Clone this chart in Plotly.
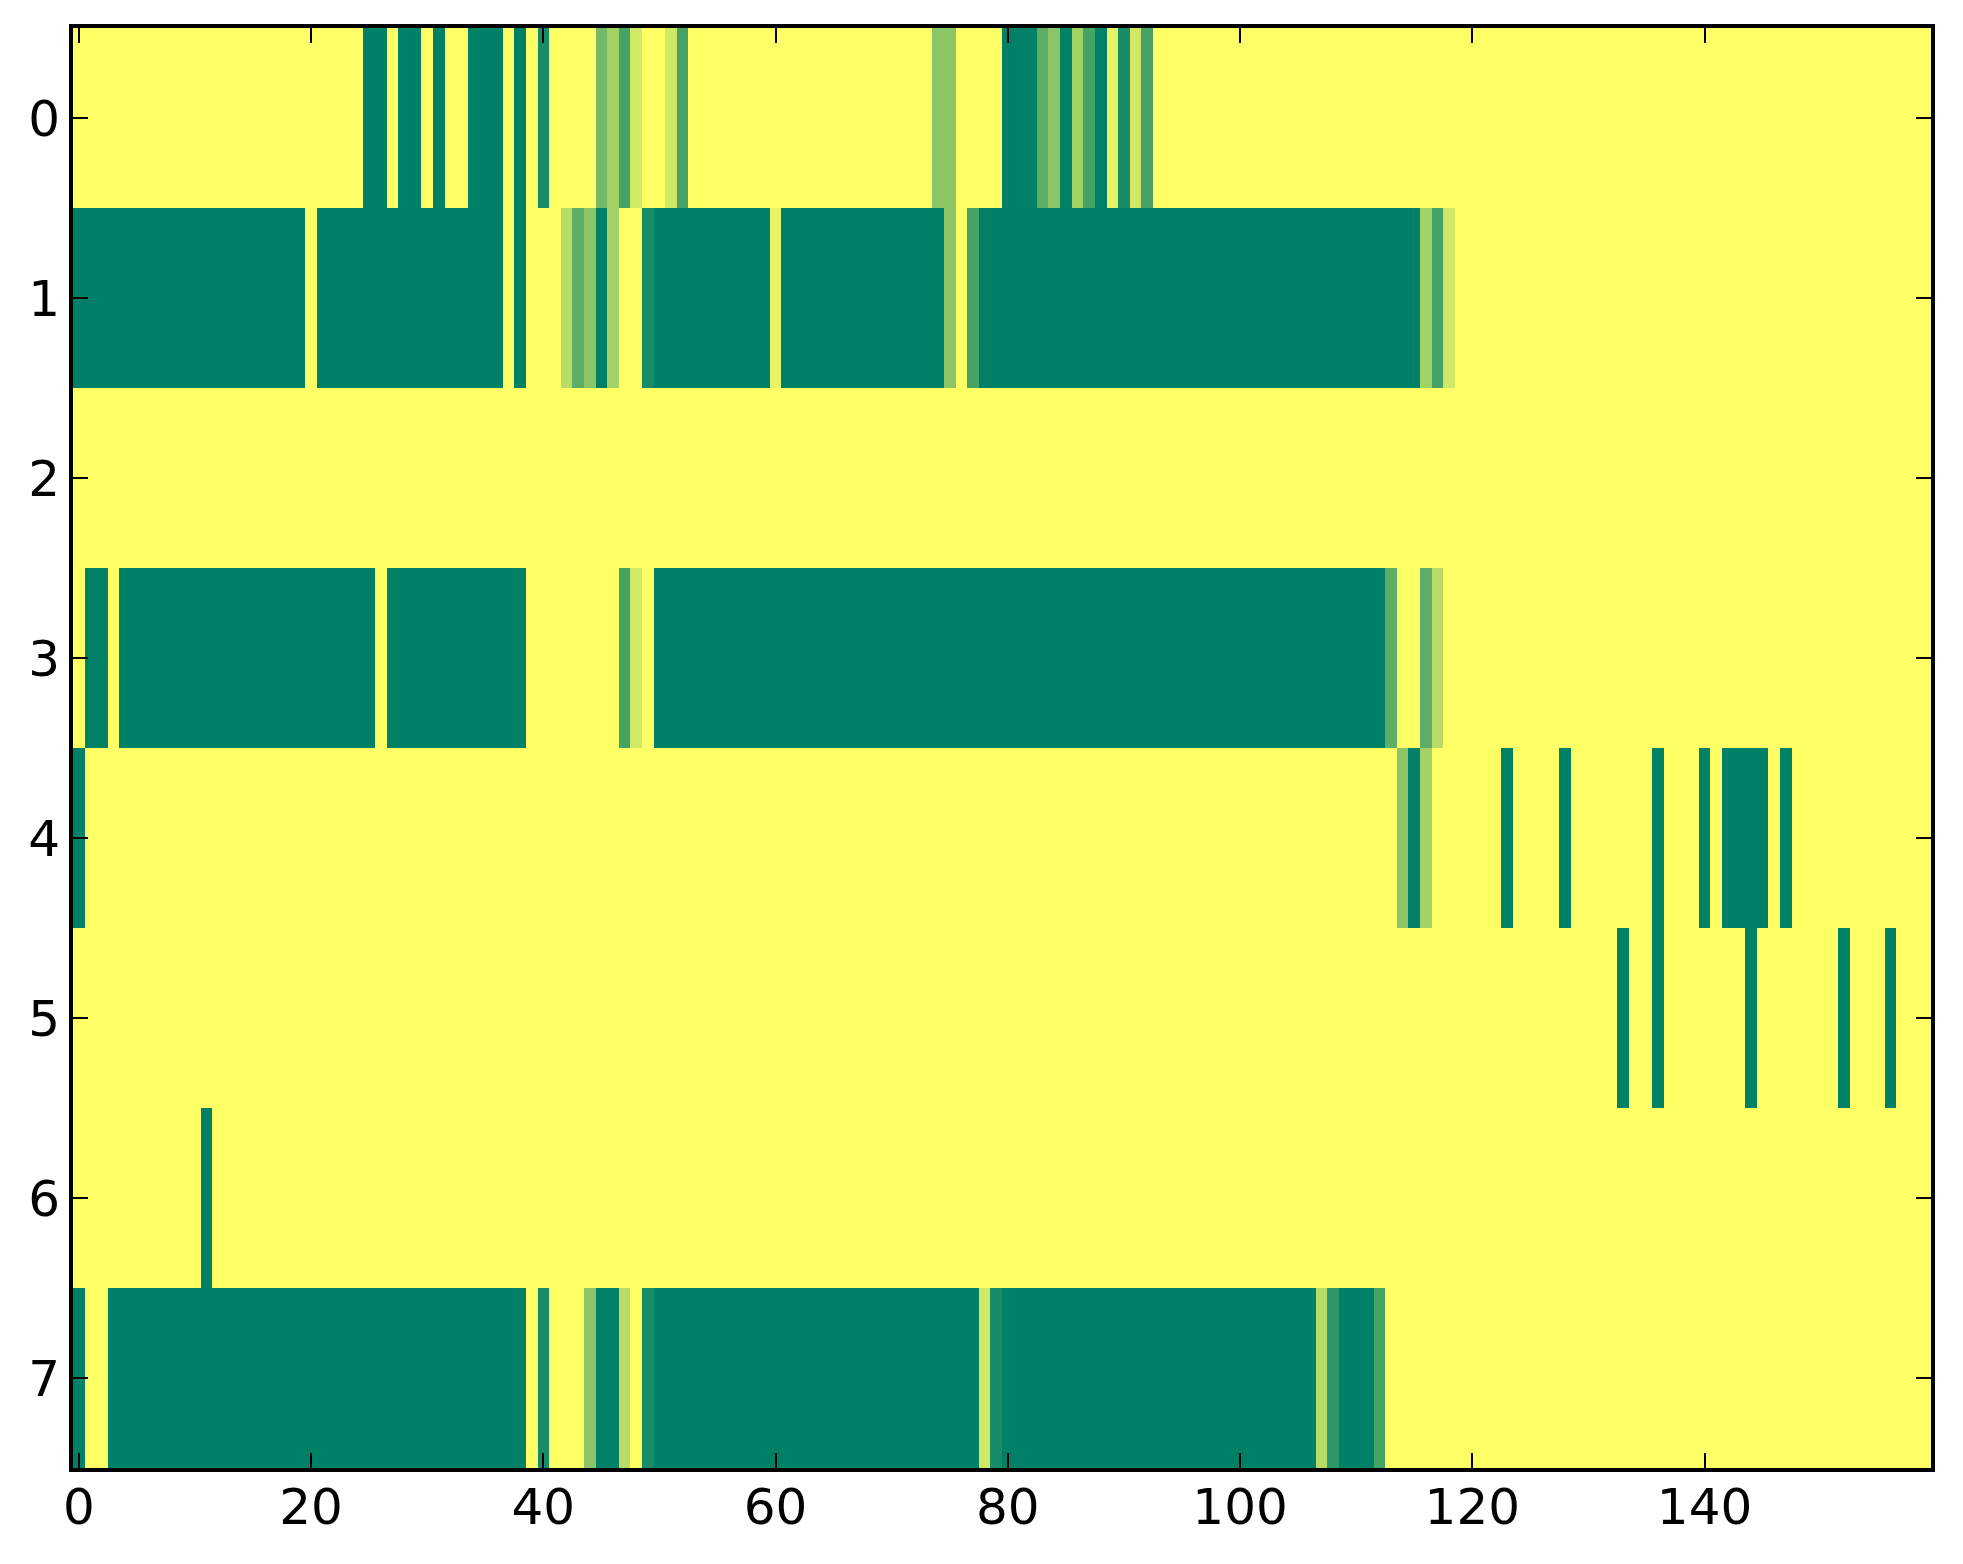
import plotly.graph_objects as go

# levels per cell: 0..9, a=10, b=11  (value = level / 11, summer colormap)
# 160 columns per row, written in blocks of 10
row0 = ("bbbbbbbbbb bbbbbbbbbb bbbbb00b00 b0bb000b0b 1bbbb5739b b93bbbbbbb bbbbbbbbbb bbbb66bbbb "
        "000460730a 193bbbbbbb bbbbbbbbbb bbbbbbbbbb bbbbbbbbbb bbbbbbbbbb bbbbbbbbbb bbbbbbbbbb")
row1 = ("0000000000 0000000000 b000000000 0000000b0b bb84607bb1 0000000000 a000000000 000006b300 "
        "0000000000 0000000000 0000000000 000000739b bbbbbbbbbb bbbbbbbbbb bbbbbbbbbb bbbbbbbbbb")
row2 = ("bbbbbbbbbb bbbbbbbbbb bbbbbbbbbb bbbbbbbbbb bbbbbbbbbb bbbbbbbbbb bbbbbbbbbb bbbbbbbbbb "
        "bbbbbbbbbb bbbbbbbbbb bbbbbbbbbb bbbbbbbbbb bbbbbbbbbb bbbbbbbbbb bbbbbbbbbb bbbbbbbbbb")
row3 = ("b00b000000 0000000000 000000b000 000000000b bbbbbbb39b 0000000000 0000000000 0000000000 "
        "0000000000 0000000000 0000000000 0004bb48bb bbbbbbbbbb bbbbbbbbbb bbbbbbbbbb bbbbbbbbbb")
row4 = ("0bbbbbbbbb bbbbbbbbbb bbbbbbbbbb bbbbbbbbbb bbbbbbbbbb bbbbbbbbbb bbbbbbbbbb bbbbbbbbbb "
        "bbbbbbbbbb bbbbbbbbbb bbbbbbbbbb bbbb607bbb bbb0bbbb0b bbbbbb0bbb 0b0000b0bb bbbbbbbbbb")
row5 = ("bbbbbbbbbb bbbbbbbbbb bbbbbbbbbb bbbbbbbbbb bbbbbbbbbb bbbbbbbbbb bbbbbbbbbb bbbbbbbbbb "
        "bbbbbbbbbb bbbbbbbbbb bbbbbbbbbb bbbbbbbbbb bbbbbbbbbb bbb0bb0bbb bbbb0bbbbb bb0bbb0bbb")
row6 = ("bbbbbbbbbb b0bbbbbbbb bbbbbbbbbb bbbbbbbbbb bbbbbbbbbb bbbbbbbbbb bbbbbbbbbb bbbbbbbbbb "
        "bbbbbbbbbb bbbbbbbbbb bbbbbbbbbb bbbbbbbbbb bbbbbbbbbb bbbbbbbbbb bbbbbbbbbb bbbbbbbbbb")
row7 = ("0bb0000000 0000000000 0000000000 000000000b 1bbb6008b1 0000000000 0000000000 0000000091 "
        "0000000000 0000000000 0000000820 003bbbbbbb bbbbbbbbbb bbbbbbbbbb bbbbbbbbbb bbbbbbbbbb")

rows = [row0, row1, row2, row3, row4, row5, row6, row7]
y_labels = [0, 1, 2, 3, 4, 5, 6, 7]
x_ticks = [0, 20, 40, 60, 80, 100, 120, 140]

z = []
for r in rows:
    cells = "".join(r.split())
    z.append([int(c, 16) / 11 for c in cells])
cols = list(range(len(z[0])))

# matplotlib 'summer'
summer = [[0, "rgb(0,128,102)"], [1, "rgb(255,255,102)"]]

fig = go.Figure(
    data=[go.Heatmap(z=z, x=cols, y=y_labels, colorscale=summer,
                     zmin=0, zmax=1, showscale=False)]
)

axis_style = dict(
    ticks="inside", ticklen=15, tickwidth=2, tickcolor="black",
    showline=True, linewidth=4, linecolor="black", mirror="ticks",
    showgrid=False, zeroline=False,
    tickfont=dict(family="DejaVu Sans", size=50, color="black"),
)

fig.update_layout(
    width=1963, height=1564,
    margin=dict(l=73, r=32, t=28, b=96),
    paper_bgcolor="white", plot_bgcolor="white",
    xaxis=dict(range=[-0.5, 159.5], tickvals=x_ticks, ticklabelstandoff=-8, **axis_style),
    yaxis=dict(range=[7.5, -0.5], tickvals=y_labels, ticklabelstandoff=-1, **axis_style),
)

fig.write_html("out.html", config={"displayModeBar": False},
               post_script="document.body.style.margin='0';")
